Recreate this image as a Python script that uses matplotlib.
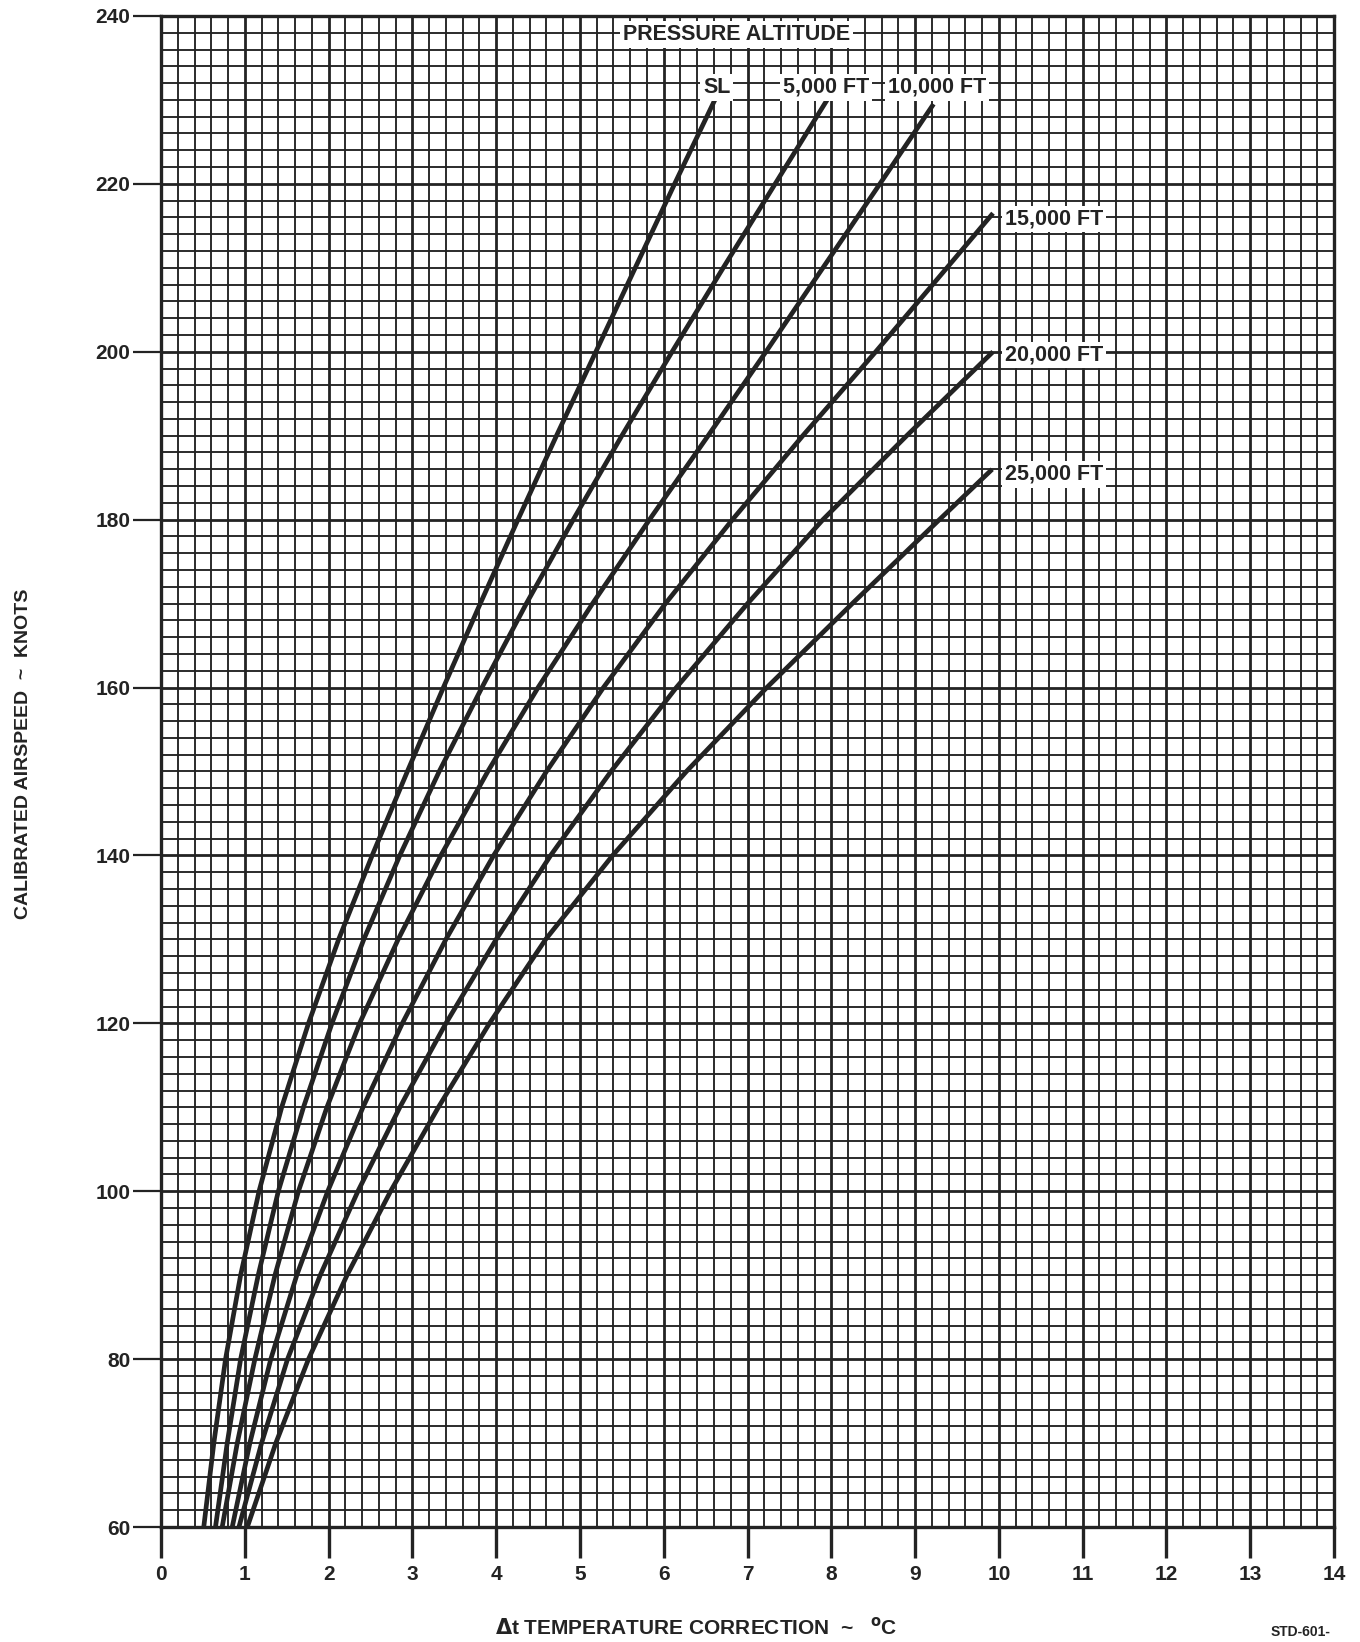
import matplotlib
matplotlib.use("Agg")
import matplotlib.pyplot as plt
from matplotlib.ticker import MultipleLocator

# ---- data ----
ias_sl = [60, 70, 80, 90, 100, 110, 120, 130, 140, 150, 160, 170, 180, 190, 200, 210, 220, 230]
dt_sl = [0.51, 0.63, 0.77, 0.95, 1.17, 1.44, 1.76, 2.12, 2.52, 2.94, 3.37, 3.81, 4.26,
         4.72, 5.19, 5.66, 6.13, 6.61]

ias_5k = [60, 70, 80, 90, 100, 110, 120, 130, 140, 150, 160, 170, 180, 190, 200, 210, 220, 230]
dt_5k = [0.65, 0.79, 0.95, 1.16, 1.40, 1.70, 2.04, 2.42, 2.85, 3.32, 3.83, 4.36, 4.92,
         5.50, 6.10, 6.71, 7.33, 7.95]

ias_10k = [60, 70, 80, 90, 100, 110, 120, 130, 140, 150, 160, 170, 180, 190, 200, 210, 220, 229.5]
dt_10k = [0.73, 0.91, 1.12, 1.36, 1.64, 1.98, 2.37, 2.83, 3.34, 3.90, 4.50, 5.15, 5.83,
          6.53, 7.22, 7.90, 8.58, 9.22]

ias_15k = [60, 70, 80, 90, 100, 110, 120, 130, 140, 150, 160, 170, 180, 190, 200, 210, 216.5]
dt_15k = [0.85, 1.06, 1.31, 1.62, 1.99, 2.41, 2.88, 3.40, 3.97, 4.60, 5.28, 6.02, 6.82,
          7.66, 8.53, 9.38, 9.93]

ias_20k = [60, 70, 80, 90, 100, 110, 120, 130, 140, 150, 160, 170, 180, 190, 200]
dt_20k = [0.93, 1.20, 1.51, 1.90, 2.35, 2.85, 3.40, 4.00, 4.65, 5.37, 6.15, 7.00, 7.90,
          8.90, 9.93]

ias_25k = [60, 70, 80, 90, 100, 110, 120, 130, 140, 150, 160, 170, 180, 186]
dt_25k = [1.03, 1.37, 1.76, 2.22, 2.74, 3.31, 3.92, 4.59, 5.39, 6.27, 7.23, 8.25, 9.29, 9.92]

series = [
    (dt_sl, ias_sl), (dt_5k, ias_5k), (dt_10k, ias_10k),
    (dt_15k, ias_15k), (dt_20k, ias_20k), (dt_25k, ias_25k),
]

label_texts = ["SL", "5,000 FT", "10,000 FT", "15,000 FT", "20,000 FT", "25,000 FT"]
label_x = [6.47, 7.42, 8.68, 10.07, 10.07, 10.07]
label_y = [231.5, 231.5, 231.5, 215.8, 199.6, 185.4]

x_ticks = list(range(0, 15))
y_ticks = list(range(60, 241, 20))

# ---- figure ----
FONT = ["Liberation Sans", "DejaVu Sans"]
plt.rcParams["font.family"] = FONT
plt.rcParams["font.weight"] = "bold"

fig = plt.figure(figsize=(13.6, 16.42), dpi=100)
ax = fig.add_axes([0.1184, 0.0700, 0.8625, 0.9203])

ink = "#232323"

ax.set_xlim(0, 14)
ax.set_ylim(60, 240)
ax.set_xticks(x_ticks)
ax.set_yticks(y_ticks)
ax.xaxis.set_minor_locator(MultipleLocator(0.2))
ax.yaxis.set_minor_locator(MultipleLocator(2))

ax.grid(which="major", color=ink, linewidth=2.0)
ax.grid(which="minor", color=ink, linewidth=1.35)
ax.set_axisbelow(True)

for s in ax.spines.values():
    s.set_linewidth(2.4)
    s.set_color(ink)

ax.tick_params(axis="x", which="major", direction="out", length=22, width=2.4,
               color=ink, labelsize=15, pad=5)
ax.tick_params(axis="y", which="major", direction="out", length=20, width=1.6,
               color=ink, labelsize=15, pad=2)
ax.tick_params(which="minor", length=0)
for lab in ax.get_xticklabels() + ax.get_yticklabels():
    lab.set_fontweight("bold")
    lab.set_color(ink)

for xs, ys in series:
    ax.plot(xs, ys, color=ink, linewidth=3.4, solid_joinstyle="round",
            solid_capstyle="butt", zorder=3)

box = dict(facecolor="white", edgecolor="none", pad=2.0)
ax.text(5.51, 237.8, "PRESSURE ALTITUDE", fontsize=15.5, fontweight="bold",
        color=ink, ha="left", va="center", bbox=box, zorder=5)
for t, x, y in zip(label_texts, label_x, label_y):
    ax.text(x, y, t, fontsize=15.5, fontweight="bold", color=ink,
            ha="left", va="center", bbox=box, zorder=5)

ax.set_ylabel("CALIBRATED AIRSPEED  ~  KNOTS", fontsize=14, fontweight="bold",
              color=ink, labelpad=0)
ax.yaxis.set_label_coords(-0.110, 0.512)

fig.text(0.512, 0.002, r"$\Delta$t TEMPERATURE CORRECTION  ~   $^{\mathbf{o}}$C",
         fontsize=15, fontweight="bold", color=ink, ha="center", va="bottom")
fig.text(0.978, 0.002, "STD-601-", fontsize=10, fontweight="bold",
         color=ink, ha="right", va="bottom")

fig.savefig("out.png", dpi=100, facecolor="white")
